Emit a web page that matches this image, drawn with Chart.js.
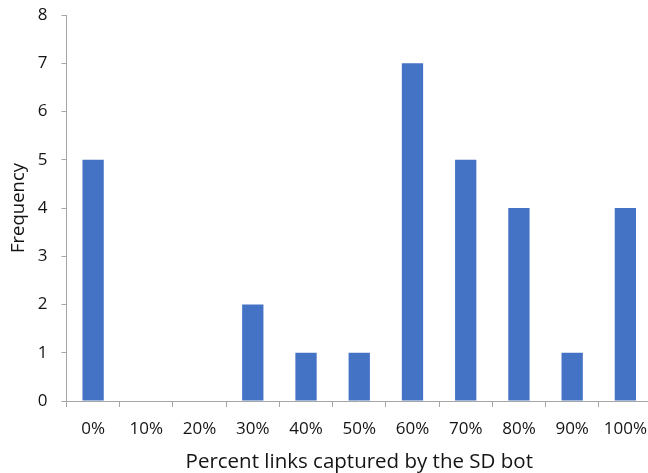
<!DOCTYPE html>
<html>
<head>
<meta charset="utf-8">
<script src="https://cdn.jsdelivr.net/npm/chart.js@4/dist/chart.umd.min.js"></script>
<style>
  html, body { margin: 0; padding: 0; background: #fff; overflow: hidden; }
  #wrap { position: relative; width: 652px; height: 473px; }
</style>
</head>
<body>
<div id="wrap"><canvas id="chart"></canvas></div>
<script>
// Histogram of how many links the SD bot captured, in 10% bins
const categories = ['0%', '10%', '20%', '30%', '40%', '50%', '60%', '70%', '80%', '90%', '100%'];
const frequency = [5, 0, 0, 2, 1, 1, 7, 5, 4, 1, 4];
const yTicks = [0, 1, 2, 3, 4, 5, 6, 7, 8];

const axisGrey = '#a6a6a6';
const textColor = '#141414';
const fontFamily = '"Open Sans", "Liberation Sans", sans-serif';

new Chart(document.getElementById('chart'), {
  type: 'bar',
  data: {
    labels: categories,
    datasets: [{
      data: frequency,
      backgroundColor: '#4472C4',
      borderWidth: 0,
      barPercentage: 0.4,
      categoryPercentage: 1.0
    }]
  },
  options: {
    responsive: true,
    maintainAspectRatio: false,
    animation: false,
    layout: { padding: { top: 15, right: 0, left: 0, bottom: 0 } },
    plugins: { legend: { display: false }, tooltip: { enabled: false } },
    scales: {
      x: {
        offset: true,
        grid: {
          offset: true,
          drawOnChartArea: false,
          drawTicks: true,
          tickLength: 6,
          color: axisGrey,
          lineWidth: 1
        },
        border: { display: true, color: axisGrey, width: 1 },
        ticks: { color: textColor, font: { family: fontFamily, size: 17 }, padding: 12, maxRotation: 0 },
        title: {
          display: true,
          text: 'Percent links captured by the SD bot',
          color: textColor,
          font: { family: fontFamily, size: 20.5 },
          padding: { top: 4, bottom: -1 }
        },
        afterFit: s => { s.height = 72; s.paddingLeft = 0; s.paddingRight = 0; }
      },
      y: {
        min: 0,
        max: 8,
        afterBuildTicks: s => { s.ticks = yTicks.map(v => ({ value: v })); },
        grid: {
          drawOnChartArea: false,
          drawTicks: true,
          tickLength: 5,
          color: axisGrey
        },
        border: { display: true, color: axisGrey, width: 1 },
        ticks: { color: textColor, font: { family: fontFamily, size: 17 }, padding: 14 },
        title: {
          display: true,
          text: 'Frequency',
          color: textColor,
          font: { family: fontFamily, size: 18.5 },
          padding: { top: 8, bottom: 0 }
        },
        afterFit: s => { s.width = 66.5; s.paddingTop = 0; s.paddingBottom = 0; }
      }
    }
  }
});
</script>
</body>
</html>
